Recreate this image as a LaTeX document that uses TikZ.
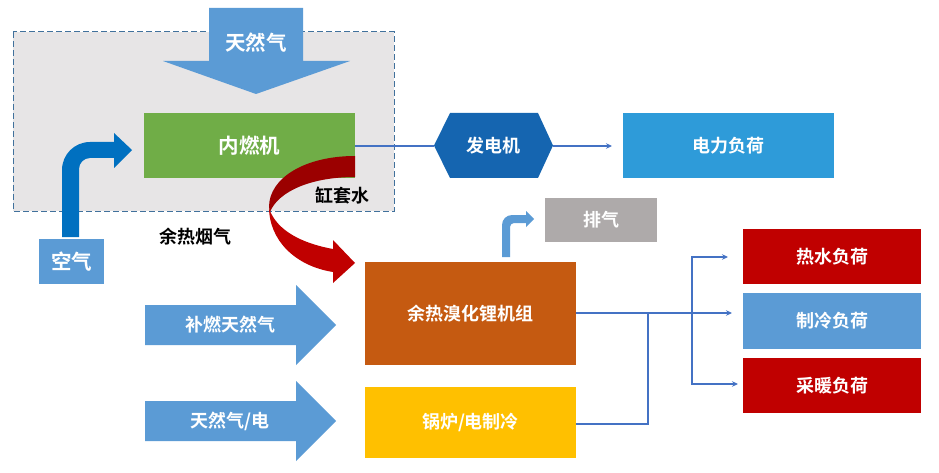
\documentclass[tikz,border=0pt]{standalone}
\usepackage{fontspec}
\setmainfont{Noto Sans CJK SC}[BoldFont={Noto Sans CJK SC Bold}]
\usetikzlibrary{arrows.meta}
\definecolor{lblue}{HTML}{5B9BD5}
\definecolor{dblue}{HTML}{0070C0}
\definecolor{hexblue}{HTML}{1565B0}
\definecolor{skyb}{HTML}{2E9BD9}
\definecolor{grn}{HTML}{70AD47}
\definecolor{gry}{HTML}{AEAAAA}
\definecolor{pale}{HTML}{E7E5E6}
\definecolor{rust}{HTML}{C55A11}
\definecolor{gold}{HTML}{FFC000}
\definecolor{crim}{HTML}{C00000}
\definecolor{dcrim}{HTML}{9B0000}
\definecolor{linkc}{HTML}{4472C4}
\definecolor{dashc}{HTML}{41719C}
\tikzset{
  box/.style={inner sep=0pt,outer sep=0pt,text=white,font=\bfseries\fontsize{18}{20}\selectfont},
  bigtxt/.style={font=\bfseries\fontsize{20.5}{22}\selectfont},
  lab/.style={inner sep=0pt,text=white,font=\bfseries\fontsize{18}{20}\selectfont},
  blacklab/.style={inner sep=0pt,text=black,font=\bfseries\fontsize{18}{20}\selectfont},
  link/.style={draw=linkc,line width=2pt},
  linka/.style={link,-{Stealth[length=6pt,width=5.5pt]}},
}
\begin{document}
\begin{tikzpicture}[x=1pt,y=-1pt]
\useasboundingbox (0,0) rectangle (939,473);
% dashed zone
\draw[fill=pale,draw=dashc,line width=1pt,dash pattern=on 6pt off 3pt] (13,32) rectangle (394,211);
% natural gas block arrow
\fill[lblue] (209,8) -- (303,8) -- (303,61) -- (350,61) -- (256,94) -- (163,61) -- (209,61) -- cycle;
\node[lab,bigtxt] (gas) at (256,43) {天然气};
% boxes
\node[box,bigtxt,fill=grn,minimum width=211pt,minimum height=65pt] (engine) at (249.5,145.5) {\raisebox{1.5pt}{内燃机}};
\node[box,bigtxt,fill=lblue,minimum width=65pt,minimum height=45pt] (air) at (71.5,261.5) {空气};
\fill[hexblue] (434,145.5) -- (450,113) -- (538,113) -- (553,145.5) -- (538,178) -- (450,178) -- cycle;
\node[lab] (gen) at (493.5,145.5) {发电机};
\coordinate (genW) at (434,146);
\coordinate (genE) at (553,146);
\coordinate (engineOut) at (355,146);
\node[box,fill=skyb,minimum width=211pt,minimum height=65pt] (elec) at (728.5,145.5) {电力负荷};
\node[box,fill=gry,minimum width=112pt,minimum height=44pt] (vent) at (601,220) {排气};
\node[box,fill=rust,minimum width=211pt,minimum height=103pt] (absorb) at (470.5,313.5) {余热溴化锂机组};
\node[box,fill=gold,minimum width=211pt,minimum height=71pt] (boiler) at (470.5,422.5) {\raisebox{1.5pt}{锅炉/电制冷}};
\node[box,fill=crim,minimum width=178pt,minimum height=55pt] (hot) at (832,256.5) {热水负荷};
\node[box,fill=lblue,minimum width=178pt,minimum height=56pt] (cool) at (832,321) {制冷负荷};
\node[box,fill=crim,minimum width=178pt,minimum height=55pt] (warm) at (832,385.5) {采暖负荷};
% air bent arrow
\fill[dblue] (62,237) -- (62,170) .. controls (62,154.5) and (74.5,142) .. (90,142) -- (114,142) -- (114,133) -- (132,150) -- (114,168) -- (114,158) -- (90,158) .. controls (84,158) and (79,163) .. (79,169) -- (79,237) -- cycle;
% exhaust bent arrow
\fill[lblue] (502,257) -- (502,225) .. controls (502,219.5) and (506.5,215) .. (512,215) -- (526,215) -- (526,211) -- (534,219) -- (526,227) -- (526,223) -- (514,223) .. controls (511.8,223) and (510,224.8) .. (510,227) -- (510,257) -- cycle;
% curved red arrow
\fill[dcrim] (355,156) .. controls (305,156) and (269,178) .. (269,207) -- (270,212) .. controls (278,192) and (310,177) .. (355,177) -- cycle;
\fill[crim] (270,211) .. controls (278,230) and (300,243) .. (333,249) -- (333,240) -- (355,263) -- (333,283) -- (333,272) .. controls (295,266) and (269,240) .. (269,207) -- cycle;
% block arrows
\fill[lblue] (145,305) -- (296,305) -- (296,285) -- (336,325) -- (296,365) -- (296,345) -- (145,345) -- cycle;
\node[lab] (extra) at (230,325) {补燃天然气};
\fill[lblue] (145,401) -- (296,401) -- (296,381) -- (336,421) -- (296,461) -- (296,441) -- (145,441) -- cycle;
\node[lab] (gaselec) at (230,421) {天然气/电};
% labels
\node[blacklab] (water) at (342,196) {缸套水};
\node[blacklab] (flue) at (195,237) {余热烟气};
% connectors
\coordinate (elecEnd) at (612,146);
\coordinate (hotEnd) at (728,257);
\coordinate (absorbOut) at (576,313);
\coordinate (coolEnd) at (732,313);
\coordinate (warmEnd) at (738,384);
\coordinate (boilerOut) at (576,424);
\coordinate (busJoin) at (648,313);
\coordinate (busMid) at (692,313);
\coordinate (busTop) at (692,257);
\coordinate (busBot) at (692,384);
\draw[link] (engineOut) -- (genW);
\draw[linka] (genE) -- (elecEnd);
\draw[linka] (absorbOut) -- (coolEnd);
\draw[link] (boilerOut) -| (busJoin);
\draw[linka] (busMid) -- (busTop) -- (hotEnd);
\draw[linka] (busMid) -- (busBot) -- (warmEnd);
\end{tikzpicture}
\end{document}
